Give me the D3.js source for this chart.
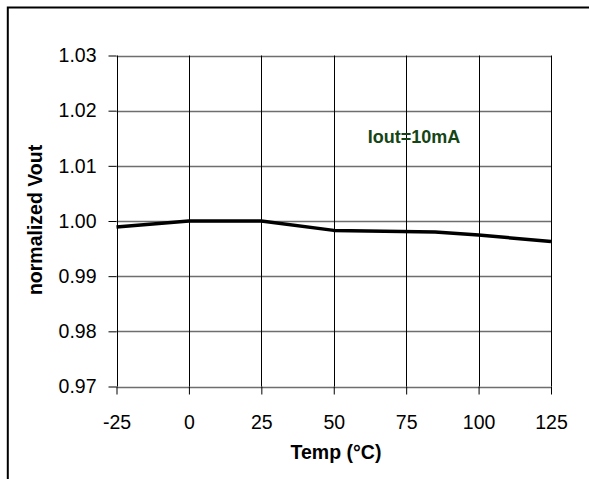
<!DOCTYPE html>
<html>
<head>
<meta charset="utf-8">
<script src="https://cdn.jsdelivr.net/npm/d3@7"></script>
<style>
  html, body { margin: 0; padding: 0; background: #fff; }
  svg { display: block; font-family: Arial, "Liberation Sans", sans-serif; }
</style>
</head>
<body>
<svg id="chart" width="589" height="479"></svg>
<script>
// values
var temps = [-25, 0, 25, 50, 85, 100, 125];
var vout = [0.9989, 1.0000, 1.0000, 0.9983, 0.9980, 0.99745, 0.9963];
var xTicks = [-25, 0, 25, 50, 75, 100, 125];
var yTicks = [0.97, 0.98, 0.99, 1.00, 1.01, 1.02, 1.03];
var seriesLabel = 'Iout=10mA';

var svg = d3.select('#chart');

var plotLeft = 116.5, plotRight = 551, plotTop = 55.5, plotBottom = 386.5;

var x = d3.scaleLinear().domain([-25, 125]).range([plotLeft, plotRight]);
var y = d3.scaleLinear().domain([0.97, 1.03]).range([plotBottom, plotTop]);

// outer frame (left and top only, the rest is cut off)
svg.append('path')
    .attr('d', 'M7.8,479 V7.5 H589')
    .attr('fill', 'none')
    .attr('stroke', '#000')
    .attr('stroke-width', 2);

// grid
svg.append('g')
    .selectAll('line')
    .data(yTicks)
    .enter().append('line')
    .attr('x1', plotLeft).attr('x2', plotRight)
    .attr('y1', function(d) { return Math.round(y(d)) + 0.5; })
    .attr('y2', function(d) { return Math.round(y(d)) + 0.5; })
    .attr('stroke', '#6e6e6e')
    .attr('stroke-width', 1.3);

svg.append('g')
    .selectAll('line')
    .data(xTicks)
    .enter().append('line')
    .attr('x1', function(d) { return Math.round(x(d)) + 0.5; })
    .attr('x2', function(d) { return Math.round(x(d)) + 0.5; })
    .attr('y1', plotTop).attr('y2', plotBottom)
    .attr('stroke', '#000')
    .attr('stroke-width', 1);

// axes
var yAxis = d3.axisLeft(y)
    .tickValues(yTicks)
    .tickSize(8)
    .tickPadding(12)
    .tickFormat(d3.format('.2f'));

var xAxis = d3.axisBottom(x)
    .tickValues(xTicks)
    .tickSize(8)
    .tickPadding(21)
    .tickFormat(function(d) { return String(d); });

svg.append('g')
    .attr('transform', 'translate(' + plotLeft + ',0)')
    .call(yAxis)
    .call(function(g) {
        g.select('.domain').remove();
        g.selectAll('.tick line').attr('stroke', '#000');
        g.selectAll('.tick text')
            .attr('fill', '#000')
            .style('font-size', '19.5px')
            .style('font-family', 'Arial, "Liberation Sans", sans-serif');
    });

svg.append('g')
    .attr('transform', 'translate(0,' + plotBottom + ')')
    .call(xAxis)
    .call(function(g) {
        g.select('.domain').remove();
        g.selectAll('.tick line').attr('stroke', '#000');
        g.selectAll('.tick text')
            .attr('fill', '#000')
            .style('font-size', '19.5px')
            .style('font-family', 'Arial, "Liberation Sans", sans-serif');
    });

// data line
var line = d3.line()
    .x(function(d) { return x(d[0]); })
    .y(function(d) { return y(d[1]); });

svg.append('path')
    .datum(d3.zip(temps, vout))
    .attr('d', line)
    .attr('fill', 'none')
    .attr('stroke', '#000')
    .attr('stroke-width', 3.5)
    .attr('stroke-linejoin', 'round');

// labels
svg.append('text')
    .attr('x', 414)
    .attr('y', 137)
    .attr('dy', '0.35em')
    .attr('text-anchor', 'middle')
    .attr('fill', '#144514')
    .style('font-size', '18px')
    .style('font-weight', 'bold')
    .text(seriesLabel);

svg.append('text')
    .attr('x', 336)
    .attr('y', 452)
    .attr('dy', '0.35em')
    .attr('text-anchor', 'middle')
    .style('font-size', '19.5px')
    .style('font-weight', 'bold')
    .text('Temp (°C)');

svg.append('text')
    .attr('transform', 'translate(35,220) rotate(-90)')
    .attr('dy', '0.35em')
    .attr('text-anchor', 'middle')
    .style('font-size', '19.5px')
    .style('font-weight', 'bold')
    .text('normalized Vout');
</script>
</body>
</html>
